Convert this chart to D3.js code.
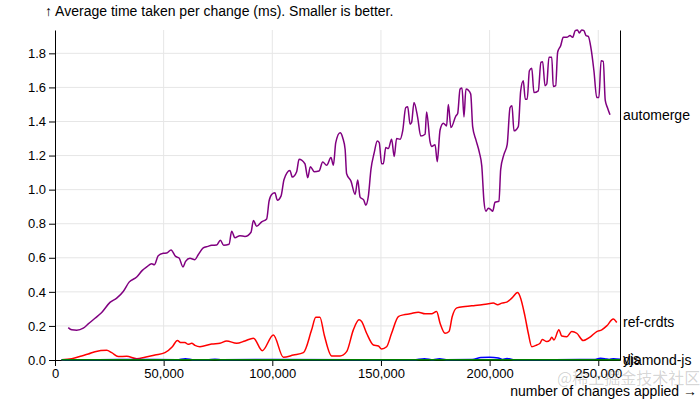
<!DOCTYPE html>
<html>
<head>
    <script src="https://cdnjs.cloudflare.com/ajax/libs/d3/7.8.5/d3.min.js"></script>
    <style>
        body { margin: 0; background: #fff; }
        svg text { font-family: "Liberation Sans", Arial, sans-serif; }
        .grid line { stroke: #e6e6e6; stroke-width: 1px; }
        .tick text { font-size: 13px; fill: #000; }
        .label { font-size: 14px; fill: #000; }
    </style>
</head>
<body>
    <div id="chart"></div>
    <script>
        const width = 700, height = 400;
        const margin = { top: 30, right: 80, bottom: 40, left: 55 };

        // x values are in thousands of changes
        const automergeX = [6.1, 7.7, 10.0, 13.0, 15.3, 18.4, 21.5, 25.3, 28.4, 31.4, 34.1, 37.6, 40.2, 42.2, 44.5, 45.7, 47.5, 49.8, 51.4, 53.4,
            55.5, 57.1, 58.9, 60.1, 62.1, 64.4, 65.9, 68.2, 70.3, 72.1, 74.4, 76.1, 77.6, 80.1, 81.3, 82.8, 85.1, 87.4, 90.2, 91.3,
            92.8, 95.1, 97.4, 98.5, 99.7, 101.2, 102.3, 104.0, 105.4, 108.1, 109.2, 111.2, 112.3, 115.0, 116.3, 117.5, 119.3, 121.5, 123.2, 125.0,
            127.0, 128.1, 129.2, 131.2, 132.4, 133.5, 134.2, 136.2, 138.1, 139.3, 140.4, 142.1, 143.0, 144.2, 145.4, 146.9, 148.3, 149.2, 150.3, 151.1,
            152.2, 153.4, 154.9, 156.1, 157.2, 158.8, 160.0, 161.4, 162.3, 163.4, 164.1, 165.2, 166.9, 168.3, 170.3, 171.0, 172.6, 173.3, 174.9, 175.9,
            177.2, 178.7, 180.2, 181.0, 182.2, 184.5, 185.3, 186.4, 187.3, 188.2, 189.1, 190.2, 191.3, 192.2, 193.7, 195.3, 196.4, 197.4, 198.3, 199.4,
            200.5, 201.4, 202.5, 204.3, 205.1, 206.6, 208.1, 209.4, 210.3, 211.2, 213.2, 214.3, 215.5, 216.4, 217.3, 218.3, 219.4, 220.4, 222.4, 223.6,
            224.4, 225.5, 226.3, 227.3, 228.6, 229.3, 230.4, 231.3, 232.7, 233.9, 235.5, 237.0, 238.2, 239.4, 240.4, 241.3, 242.4, 243.4, 244.4, 245.4,
            246.7, 248.0, 249.3, 250.3, 251.3, 252.3, 253.2, 254.2, 255.4];
        const automergeY = [0.190, 0.177, 0.175, 0.187, 0.212, 0.245, 0.279, 0.338, 0.363, 0.402, 0.457, 0.487, 0.526, 0.546, 0.565, 0.559, 0.612, 0.626, 0.628, 0.646,
            0.608, 0.599, 0.546, 0.579, 0.597, 0.589, 0.618, 0.658, 0.667, 0.673, 0.675, 0.703, 0.673, 0.679, 0.756, 0.717, 0.730, 0.725, 0.750, 0.819,
            0.785, 0.811, 0.828, 0.932, 0.972, 0.982, 0.938, 0.962, 1.060, 1.113, 1.074, 1.105, 1.178, 1.152, 1.070, 1.135, 1.105, 1.109, 1.162, 1.143,
            1.188, 1.143, 1.276, 1.334, 1.305, 1.237, 1.093, 1.050, 0.972, 1.056, 0.956, 0.938, 0.909, 0.962, 1.119, 1.217, 1.286, 1.276, 1.152, 1.152,
            1.247, 1.241, 1.296, 1.194, 1.300, 1.296, 1.345, 1.482, 1.486, 1.384, 1.394, 1.512, 1.423, 1.315, 1.325, 1.456, 1.280, 1.253, 1.264, 1.164,
            1.350, 1.390, 1.374, 1.500, 1.364, 1.433, 1.447, 1.590, 1.596, 1.427, 1.590, 1.584, 1.561, 1.370, 1.292, 1.217, 1.138, 0.932, 0.873, 0.891,
            0.883, 0.873, 0.926, 0.932, 1.119, 1.207, 1.266, 1.482, 1.492, 1.345, 1.370, 1.580, 1.639, 1.531, 1.531, 1.698, 1.712, 1.570, 1.580, 1.747,
            1.751, 1.610, 1.620, 1.777, 1.777, 1.605, 1.610, 1.806, 1.845, 1.894, 1.894, 1.904, 1.894, 1.933, 1.937, 1.920, 1.937, 1.933, 1.904, 1.900,
            1.826, 1.698, 1.541, 1.541, 1.757, 1.753, 1.525, 1.482, 1.439];

        const refX = [3.1, 7.7, 12.3, 15.3, 18.4, 23.8, 26.1, 29.1, 33.0, 37.6, 41.4, 46.0, 50.6, 54.0, 56.3, 58.0, 59.8, 61.3, 62.9, 64.4,
            66.7, 72.1, 75.9, 79.0, 83.6, 87.4, 91.3, 95.4, 100.5, 105.1, 109.7, 114.3, 118.1, 120.0, 121.9, 123.9, 127.3, 131.2, 134.2, 137.3,
            139.9, 141.1, 143.4, 146.5, 148.8, 150.3, 152.6, 154.9, 158.0, 160.3, 163.4, 167.2, 170.3, 173.3, 175.6, 177.2, 179.5, 181.3, 182.8, 184.9,
            188.7, 193.3, 196.4, 199.4, 201.7, 203.7, 205.6, 207.9, 210.2, 212.9, 214.0, 216.3, 217.8, 219.4, 221.7, 223.2, 224.2, 226.3, 227.8, 228.6,
            229.6, 231.9, 233.2, 235.5, 237.8, 240.1, 243.1, 246.2, 249.3, 251.6, 253.9, 256.9, 258.5];
        const refY = [0.002, 0.008, 0.024, 0.035, 0.049, 0.057, 0.043, 0.020, 0.022, 0.008, 0.016, 0.029, 0.043, 0.078, 0.114, 0.102, 0.102, 0.092, 0.098, 0.086,
            0.078, 0.094, 0.098, 0.112, 0.098, 0.112, 0.128, 0.055, 0.147, 0.016, 0.029, 0.043, 0.177, 0.251, 0.251, 0.147, 0.024, 0.024, 0.049, 0.177,
            0.236, 0.226, 0.157, 0.088, 0.082, 0.065, 0.078, 0.157, 0.255, 0.265, 0.271, 0.281, 0.271, 0.271, 0.284, 0.216, 0.157, 0.167, 0.255, 0.306,
            0.314, 0.320, 0.324, 0.330, 0.334, 0.324, 0.334, 0.340, 0.363, 0.396, 0.373, 0.255, 0.157, 0.078, 0.088, 0.098, 0.121, 0.108, 0.118, 0.134,
            0.118, 0.177, 0.141, 0.137, 0.167, 0.157, 0.114, 0.134, 0.167, 0.177, 0.200, 0.241, 0.220];

        const yjsX = [3, 20, 40, 56, 60, 64, 70, 73.6, 77, 100, 140, 165, 170, 174, 177, 180, 192, 196, 200, 204, 206, 208, 211, 230, 248, 251, 253, 255, 257, 260];
        const yjsY = [0.002, 0.002, 0.003, 0.002, 0.008, 0.002, 0.002, 0.005, 0.002, 0.003, 0.002, 0.002, 0.008, 0.002, 0.007, 0.002, 0.003, 0.014, 0.016, 0.012,
            0.003, 0.009, 0.002, 0.002, 0.003, 0.010, 0.008, 0.003, 0.008, 0.004];

        const diamondX = [3, 30, 60, 90, 120, 150, 180, 210, 240, 260];
        const diamondY = [0.001, 0.001, 0.001, 0.001, 0.001, 0.001, 0.001, 0.001, 0.001, 0.001];

        const seriesNames = ["automerge", "ref-crdts", "yjs", "diamond-js"];
        const seriesColors = ["purple", "red", "blue", "green"];
        const xTicks = [0, 50000, 100000, 150000, 200000, 250000];
        const yTicks = [0, 0.2, 0.4, 0.6, 0.8, 1.0, 1.2, 1.4, 1.6, 1.8];

        const zip = (xs, ys) => xs.map((x, i) => ({ x: x * 1000, y: ys[i] }));
        const series = [
            zip(automergeX, automergeY),
            zip(refX, refY),
            zip(yjsX, yjsY),
            zip(diamondX, diamondY)
        ];

        const svg = d3.select("#chart").append("svg").attr("width", width).attr("height", height);

        const x = d3.scaleLinear().domain([0, 260000]).range([margin.left, width - margin.right]);
        const y = d3.scaleLinear().domain([0, d3.max(automergeY)]).range([height - margin.bottom, margin.top]);

        // grid
        svg.append("g").attr("class", "grid")
            .selectAll("line").data(xTicks.slice(1)).enter().append("line")
            .attr("x1", d => x(d)).attr("x2", d => x(d))
            .attr("y1", y.range()[0]).attr("y2", y.range()[1]);
        svg.append("g").attr("class", "grid")
            .selectAll("line").data(yTicks.slice(1)).enter().append("line")
            .attr("x1", x.range()[0]).attr("x2", x.range()[1])
            .attr("y1", d => y(d)).attr("y2", d => y(d));

        svg.append("g")
            .attr("transform", `translate(0,${height - margin.bottom})`)
            .call(d3.axisBottom(x).tickValues(xTicks).tickFormat(d3.format(",")).tickSizeOuter(0));

        svg.append("g")
            .attr("transform", `translate(${margin.left},0)`)
            .call(d3.axisLeft(y).tickValues(yTicks).tickFormat(d3.format(".1f")).tickSizeOuter(0));

        svg.append("g")
            .attr("transform", `translate(${width - margin.right},0)`)
            .call(d3.axisRight(y).tickValues([]).tickSizeOuter(0));

        const line = d3.line()
            .x(d => x(d.x))
            .y(d => y(d.y))
            .curve(d3.curveMonotoneX);

        svg.append("g").selectAll("path").data(series).enter().append("path")
            .attr("d", line)
            .attr("fill", "none")
            .attr("stroke", (d, i) => seriesColors[i])
            .attr("stroke-width", 1.5);

        svg.append("g").selectAll("text").data(series).enter().append("text")
            .attr("class", "label")
            .attr("x", width - margin.right + 3)
            .attr("y", d => y(d[d.length - 1].y))
            .attr("dy", "0.35em")
            .text((d, i) => seriesNames[i]);

        svg.append("text")
            .attr("class", "label")
            .attr("x", 45).attr("y", 16)
            .text("↑ Average time taken per change (ms). Smaller is better.");

        svg.append("text")
            .attr("class", "label")
            .attr("x", width - 3).attr("y", 396)
            .attr("text-anchor", "end")
            .text("number of changes applied →");

        svg.append("text")
            .attr("x", 557).attr("y", 384)
            .attr("font-size", 16)
            .style("font-family", "'Noto Sans CJK SC', sans-serif")
            .attr("fill", "#000").attr("fill-opacity", 0.18)
            .text("@稀土掘金技术社区");
    </script>
</body>
</html>
